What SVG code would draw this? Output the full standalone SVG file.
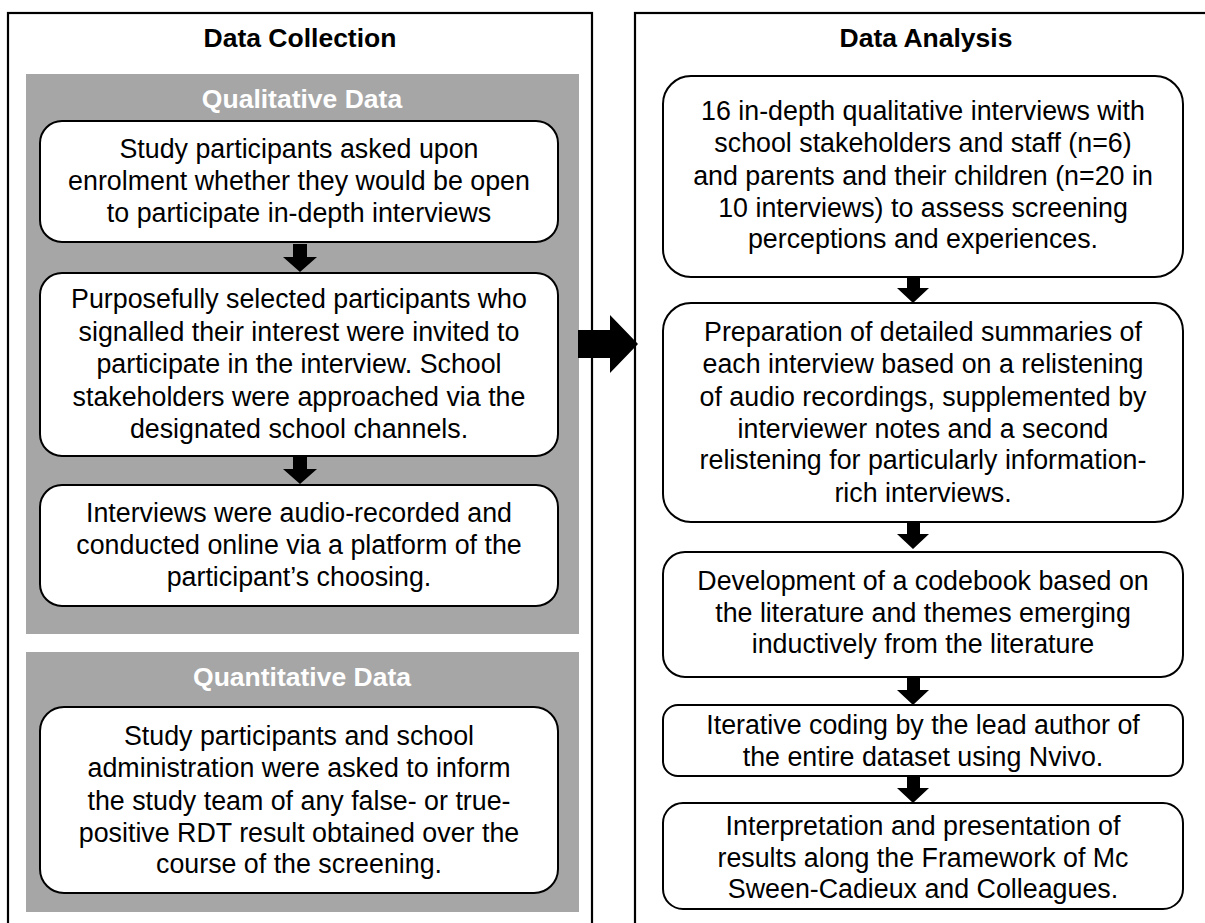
<svg xmlns="http://www.w3.org/2000/svg" width="1205" height="923" viewBox="0 0 1205 923">
<style>
.outer{fill:#fff;stroke:#000;stroke-width:2.2}
.gray{fill:#a6a6a6}
.box{fill:#fff;stroke:#000;stroke-width:2}
.t{font-family:"Liberation Sans",Arial,sans-serif;font-size:26.8px;fill:#000;text-anchor:middle}
.h{font-family:"Liberation Sans",Arial,sans-serif;font-size:26.5px;font-weight:bold;fill:#000;text-anchor:middle}
.hw{font-family:"Liberation Sans",Arial,sans-serif;font-size:26.5px;font-weight:bold;fill:#fff;text-anchor:middle}
.arr{fill:#000}
</style>
<rect width="1205" height="923" fill="#fff"/>
<g id="data-collection">
<rect class="outer" x="8" y="13" width="584" height="930"/>
<text class="h" x="300" y="47">Data Collection</text>
</g>
<g id="data-analysis">
<rect class="outer" x="635" y="13" width="584" height="930"/>
<text class="h" x="926" y="47">Data Analysis</text>
</g>
<g id="qualitative">
<rect class="gray" x="26" y="74" width="553" height="560"/>
<text class="hw" x="302" y="108">Qualitative Data</text>
</g>
<g id="quantitative">
<rect class="gray" x="26" y="652" width="553" height="260"/>
<text class="hw" x="302" y="686">Quantitative Data</text>
</g>
<g id="c1">
<rect class="box" x="40" y="121" width="518" height="121" rx="22"/>
<text class="t" x="299" y="158">Study participants asked upon</text>
<text class="t" x="299" y="190">enrolment whether they would be open</text>
<text class="t" x="299" y="222">to participate in-depth interviews</text>
</g>
<g id="c2">
<rect class="box" x="40" y="273" width="518" height="183" rx="22"/>
<text class="t" x="299" y="308">Purposefully selected participants who</text>
<text class="t" x="299" y="341">signalled their interest were invited to</text>
<text class="t" x="299" y="373">participate in the interview. School</text>
<text class="t" x="299" y="406">stakeholders were approached via the</text>
<text class="t" x="299" y="438">designated school channels.</text>
</g>
<g id="c3">
<rect class="box" x="40" y="485" width="518" height="121" rx="22"/>
<text class="t" x="299" y="522">Interviews were audio-recorded and</text>
<text class="t" x="299" y="554">conducted online via a platform of the</text>
<text class="t" x="299" y="586">participant’s choosing.</text>
</g>
<g id="c4">
<rect class="box" x="40" y="707" width="518" height="186" rx="24"/>
<text class="t" x="299" y="745">Study participants and school</text>
<text class="t" x="299" y="777">administration were asked to inform</text>
<text class="t" x="299" y="810">the study team of any false- or true-</text>
<text class="t" x="299" y="842">positive RDT result obtained over the</text>
<text class="t" x="299" y="873">course of the screening.</text>
</g>
<g id="a1">
<rect class="box" x="663" y="76" width="520" height="201" rx="28"/>
<text class="t" x="923" y="120">16 in-depth qualitative interviews with</text>
<text class="t" x="923" y="152">school stakeholders and staff (n=6)</text>
<text class="t" x="923" y="185">and parents and their children (n=20 in</text>
<text class="t" x="923" y="217">10 interviews) to assess screening</text>
<text class="t" x="923" y="248">perceptions and experiences.</text>
</g>
<g id="a2">
<rect class="box" x="663" y="303" width="520" height="219" rx="28"/>
<text class="t" x="923" y="341">Preparation of detailed summaries of</text>
<text class="t" x="923" y="373">each interview based on a relistening</text>
<text class="t" x="923" y="406">of audio recordings, supplemented by</text>
<text class="t" x="923" y="438">interviewer notes and a second</text>
<text class="t" x="923" y="469">relistening for particularly information-</text>
<text class="t" x="923" y="502">rich interviews.</text>
</g>
<g id="a3">
<rect class="box" x="663" y="552" width="520" height="125" rx="22"/>
<text class="t" x="923" y="590">Development of a codebook based on</text>
<text class="t" x="923" y="622">the literature and themes emerging</text>
<text class="t" x="923" y="653">inductively from the literature</text>
</g>
<g id="a4">
<rect class="box" x="663" y="705" width="520" height="71" rx="15"/>
<text class="t" x="923" y="734">Iterative coding by the lead author of</text>
<text class="t" x="923" y="766">the entire dataset using Nvivo.</text>
</g>
<g id="a5">
<rect class="box" x="663" y="803" width="520" height="106" rx="20"/>
<text class="t" x="923" y="835">Interpretation and presentation of</text>
<text class="t" x="923" y="867">results along the Framework of Mc</text>
<text class="t" x="923" y="898">Sween-Cadieux and Colleagues.</text>
</g>
<g id="connectors">
<path class="arr" d="M293,244 H307 V257 H317 L300,272 L283,257 H293 Z"/>
<path class="arr" d="M293,456 H307 V469 H317 L300,484 L283,469 H293 Z"/>
<path class="arr" d="M907,277 H920 V288 H929 L913,303 L897,288 H907 Z"/>
<path class="arr" d="M907,522 H920 V534 H929 L913,549 L897,534 H907 Z"/>
<path class="arr" d="M907,677 H920 V690 H929 L913,705 L897,690 H907 Z"/>
<path class="arr" d="M907,777 H920 V788 H929 L913,803 L897,788 H907 Z"/>
<path class="arr" d="M578,330 H610 V315 L638,344 L610,373 V358 H578 Z"/>
</g>
</svg>
